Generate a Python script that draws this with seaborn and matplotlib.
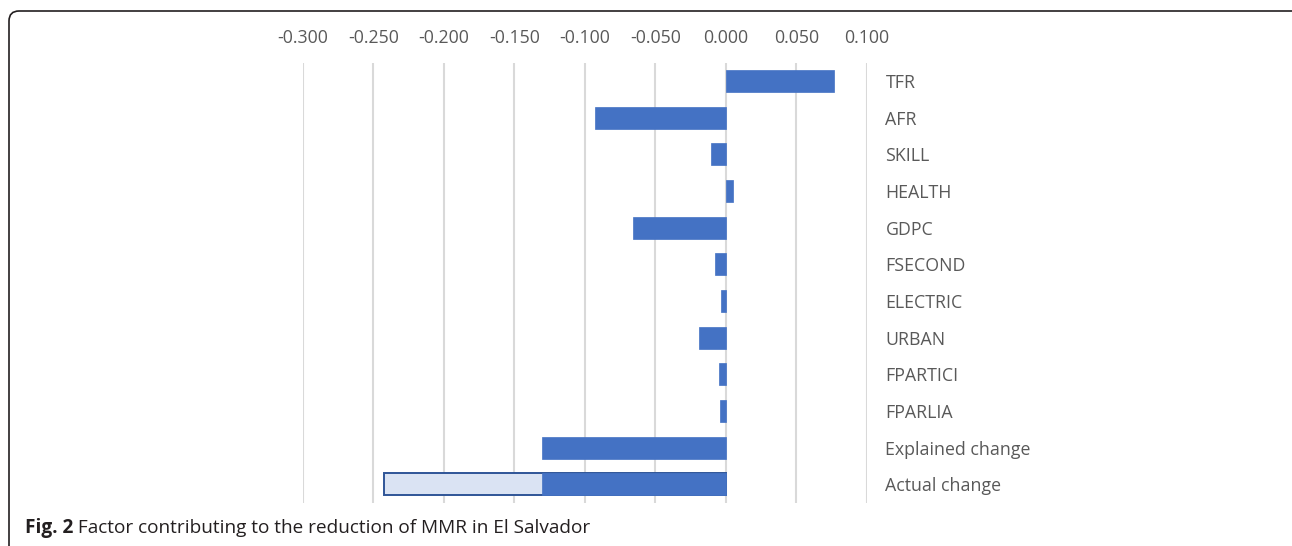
import numpy as np
import pandas as pd
import matplotlib
matplotlib.use("Agg")
import matplotlib.pyplot as plt
import seaborn as sns
from matplotlib.patches import FancyBboxPatch

# ---------------- data ----------------
factors = ["TFR", "AFR", "SKILL", "HEALTH", "GDPC", "FSECOND",
           "ELECTRIC", "URBAN", "FPARTICI", "FPARLIA"]
factor_values = [0.077, -0.093, -0.0105, 0.005, -0.066, -0.0075,
                 -0.0035, -0.019, -0.005, -0.0037]
explained_label = "Explained change"
actual_label = "Actual change"
explained_change = -0.130
actual_change = -0.2425
x_ticks = [-0.300, -0.250, -0.200, -0.150, -0.100, -0.050, 0.000, 0.050, 0.100]
caption_bold = "Fig. 2"
caption_text = " Factor contributing to the reduction of MMR in El Salvador"

categories = factors + [explained_label, actual_label]
# dark part: factors, explained change, and the explained share of actual change
dark_df = pd.DataFrame({
    "category": categories,
    "value": factor_values + [explained_change, explained_change],
})
light_df = pd.DataFrame({"category": [actual_label], "value": [actual_change]})

# ---------------- style ----------------
sns.set_theme(style="white")
plt.rcParams["font.family"] = ["Open Sans", "DejaVu Sans"]

W, H, DPI = 1292, 546, 100
fig = plt.figure(figsize=(W / DPI, H / DPI), dpi=DPI)
fig.patch.set_facecolor("white")

ax_left, ax_right = 302.7, 866.7
ax_top, ax_bottom = 62.7, 502.7
ax = fig.add_axes([ax_left / W, 1 - ax_bottom / H,
                   (ax_right - ax_left) / W, (ax_bottom - ax_top) / H])

BLUE = "#4472C4"
LIGHT = "#DAE3F3"
EDGE = "#2F5597"
GRAY_TXT = "#595959"

sns.barplot(data=light_df, x="value", y="category", order=categories,
            color=LIGHT, saturation=1, width=0.6, edgecolor=EDGE,
            linewidth=1.4, ax=ax, orient="h")
sns.barplot(data=dark_df, x="value", y="category", order=categories,
            color=BLUE, saturation=1, width=0.6, edgecolor=BLUE,
            linewidth=0.5, ax=ax, orient="h")

ax.set_xlim(-0.300, 0.100)
ax.set_ylim(len(categories) - 0.5, -0.5)
ax.set_xticks(x_ticks)
ax.set_xticklabels([f"{v:.3f}" for v in x_ticks])
ax.xaxis.tick_top()
ax.yaxis.tick_right()
ax.tick_params(axis="x", length=0, pad=11, labelsize=12.8, labelcolor=GRAY_TXT)
ax.tick_params(axis="y", length=0, pad=13.5, labelsize=12.8, labelcolor=GRAY_TXT)
for lbl in ax.get_yticklabels():
    lbl.set_ha("left")
ax.set_xlabel("")
ax.set_ylabel("")
ax.grid(axis="x", color="#D9D9D9", linewidth=1.5)
ax.grid(axis="y", visible=False)
ax.set_axisbelow(True)
for s in ax.spines.values():
    s.set_visible(False)
ax.set_facecolor("white")

# ---------------- frame ----------------
frame = FancyBboxPatch((9 / DPI, -0.3), (W + 20) / DPI, (H - 11) / DPI + 0.3,
                       boxstyle="round,pad=0,rounding_size=0.1",
                       transform=fig.dpi_scale_trans, fill=False,
                       edgecolor="#231F20", linewidth=1.2, clip_on=False)
fig.patches.append(frame)

# ---------------- caption ----------------
t = fig.text(25 / W, 1 - 528 / H, caption_bold, fontsize=13.7, fontweight="bold",
             color="#231F20", ha="left", va="center")
ax.annotate(caption_text, xy=(1, 0.5), xycoords=t, fontsize=13.7,
            color="#231F20", ha="left", va="center", annotation_clip=False)

fig.savefig("out.png", dpi=DPI)
